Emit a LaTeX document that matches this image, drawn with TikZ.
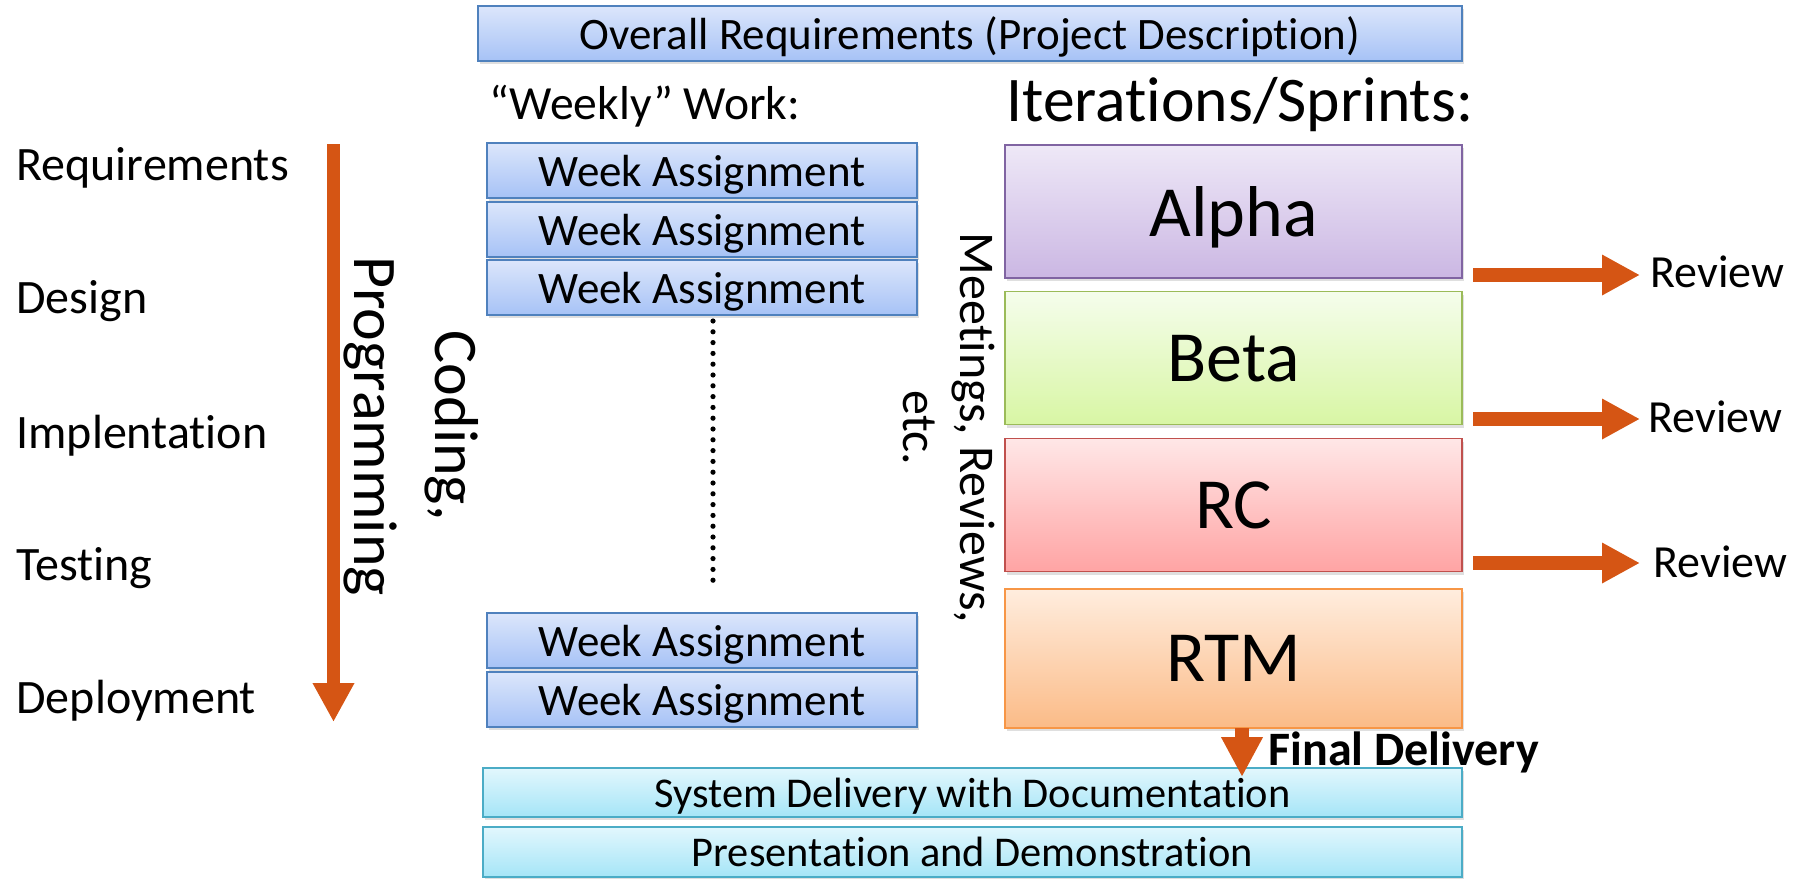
\documentclass[tikz,border=0pt]{standalone}
\usepackage{fontspec}
\setmainfont{Carlito}[Ligatures={NoCommon}]
\usetikzlibrary{arrows.meta,shadows,calc}

% palette
\definecolor{weekTop}{HTML}{DCE6FB}
\definecolor{weekBot}{HTML}{A6C2F6}
\definecolor{weekLine}{HTML}{4F81BD}
\definecolor{alphaTop}{HTML}{EEE8F7}
\definecolor{alphaBot}{HTML}{CBB7E3}
\definecolor{alphaLine}{HTML}{8064A2}
\definecolor{betaTop}{HTML}{F5FDEC}
\definecolor{betaBot}{HTML}{D8F6A4}
\definecolor{betaLine}{HTML}{9BBB59}
\definecolor{rcTop}{HTML}{FFE7E7}
\definecolor{rcBot}{HTML}{FFA4A4}
\definecolor{rcLine}{HTML}{C0504D}
\definecolor{rtmTop}{HTML}{FFEDDE}
\definecolor{rtmBot}{HTML}{FBBB87}
\definecolor{rtmLine}{HTML}{F79646}
\definecolor{cyanTop}{HTML}{E2F7FD}
\definecolor{cyanBot}{HTML}{A5E5F7}
\definecolor{cyanLine}{HTML}{4BACC6}
\definecolor{flow}{HTML}{D55514}

\tikzset{
  box/.style={draw, line width=0.8pt, inner sep=0pt, text depth=0pt,
    drop shadow={shadow xshift=1.2pt, shadow yshift=-1.5pt, opacity=0.25}},
  bluebox/.style={box, draw=weekLine, top color=weekTop, bottom color=weekBot,
    font=\fontsize{22.5}{26}\selectfont},
  weekbox/.style={bluebox, minimum width=215pt, minimum height=27.5pt},
  iterbox/.style={box, minimum width=228.5pt, minimum height=66.5pt,
    font=\fontsize{36}{40}\selectfont},
  alphabox/.style={iterbox, draw=alphaLine, top color=alphaTop, bottom color=alphaBot},
  betabox/.style={iterbox, draw=betaLine, top color=betaTop, bottom color=betaBot},
  rcbox/.style={iterbox, draw=rcLine, top color=rcTop, bottom color=rcBot},
  rtmbox/.style={iterbox, draw=rtmLine, top color=rtmTop, bottom color=rtmBot},
  cyanbox/.style={box, draw=cyanLine, top color=cyanTop, bottom color=cyanBot,
    minimum width=489.5pt, font=\fontsize{21.2}{24}\selectfont},
  phase/.style={anchor=base west, inner sep=0pt, font=\fontsize{24}{28}\selectfont},
  reviewtxt/.style={anchor=west, inner sep=0pt, font=\fontsize{23}{26}\selectfont},
  flowarrow/.style={draw=flow, line width=6.5pt,
    -{Triangle[width=19.5pt,length=19.5pt]}},
  reviewarrow/.style={draw=flow, line width=7pt,
    -{Triangle[width=19pt,length=19pt]}},
  deliverarrow/.style={draw=flow, line width=7pt,
    -{Triangle[width=19.5pt,length=20pt]}},
  dotline/.style={line width=2.6pt, line cap=round, dash pattern=on 0pt off 5.4pt},
}

\begin{document}
\begin{tikzpicture}[x=0.5pt, y=-0.5pt]
\useasboundingbox (0,0) rectangle (1808,878);

% overall requirements banner
\node[bluebox, minimum width=492pt, minimum height=27.5pt] (overall) at (970,33.5)
  {Overall Requirements (Project Description)};

% column headings
\node[anchor=base west, inner sep=0pt, font=\fontsize{23.8}{27}\selectfont] (weekly)
  at (489,119) {“Weekly” Work:};
\node[anchor=base west, inner sep=0pt, font=\fontsize{31.8}{36}\selectfont] (iters)
  at (1006,121) {Iterations/Sprints:};

% lifecycle phases
\node[phase] (req)  at (16,180) {Requirements};
\node[phase] (des)  at (16,313) {Design};
\node[phase] (impl) at (16,448) {Implentation};
\node[phase] (test) at (16,580) {Testing};
\node[phase] (dep)  at (16,713) {Deployment};

\coordinate (lifetop) at (333.5,144);
\coordinate (lifebot) at (333.5,722);
\draw[flowarrow] (lifetop) -- (lifebot);

\node[rotate=-90, align=center, inner sep=0pt, font=\fontsize{31}{40.5}\selectfont]
  (coding) at (411,426) {Coding,\\Programming};

% weekly assignments
\node[weekbox] (w1) at (702,170.5) {Week Assignment};
\node[weekbox] (w2) at (702,229.5) {Week Assignment};
\node[weekbox] (w3) at (702,287.5) {Week Assignment};
\node[weekbox] (w4) at (702,640.5) {Week Assignment};
\node[weekbox] (w5) at (702,699.5) {Week Assignment};

\coordinate (dtop) at (713,321);
\coordinate (dbot) at (713,584);
\draw[dotline] (dtop) -- (dbot);

\node[rotate=-90, align=center, inner sep=0pt, font=\fontsize{25}{28.5}\selectfont]
  (meet) at (949,428) {Meetings, Reviews,\\etc.};

% iterations
\node[alphabox] (alpha) at (1233.5,211.5) {Alpha};
\node[betabox]  (beta)  at (1233.5,358)   {Beta};
\node[rcbox]    (rc)    at (1233.5,505)   {RC};
\node[rtmbox, minimum height=69.5pt] (rtm) at (1233.5,658.5) {RTM};

% reviews after each iteration
\node[reviewtxt] (rev1) at (1650,272) {Review};
\node[reviewtxt] (rev2) at (1648,417) {Review};
\node[reviewtxt] (rev3) at (1653,562) {Review};
\coordinate (ra1) at (1473,275);
\coordinate (ra2) at (1473,419);
\coordinate (ra3) at (1473,563);
\draw[reviewarrow, shorten >=5pt] (ra1) -- (ra1 -| rev1.west);
\draw[reviewarrow, shorten >=4pt] (ra2) -- (ra2 -| rev2.west);
\draw[reviewarrow, shorten >=6.5pt] (ra3) -- (ra3 -| rev3.west);

% delivery
\node[cyanbox, minimum height=24.5pt] (sysdel) at (972.5,792.5)
  {System Delivery with Documentation};
\node[cyanbox, minimum height=25pt] (pres) at (972.5,852)
  {Presentation and Demonstration};

\coordinate (fdtop) at (1242,728);
\coordinate (fdend) at (1242,777);
\draw[deliverarrow] (fdtop) -- (fdend);
\node[anchor=base west, inner sep=0pt, font=\fontsize{24}{27}\selectfont\bfseries]
  (final) at (1268,765) {Final Delivery};
\end{tikzpicture}
\end{document}
